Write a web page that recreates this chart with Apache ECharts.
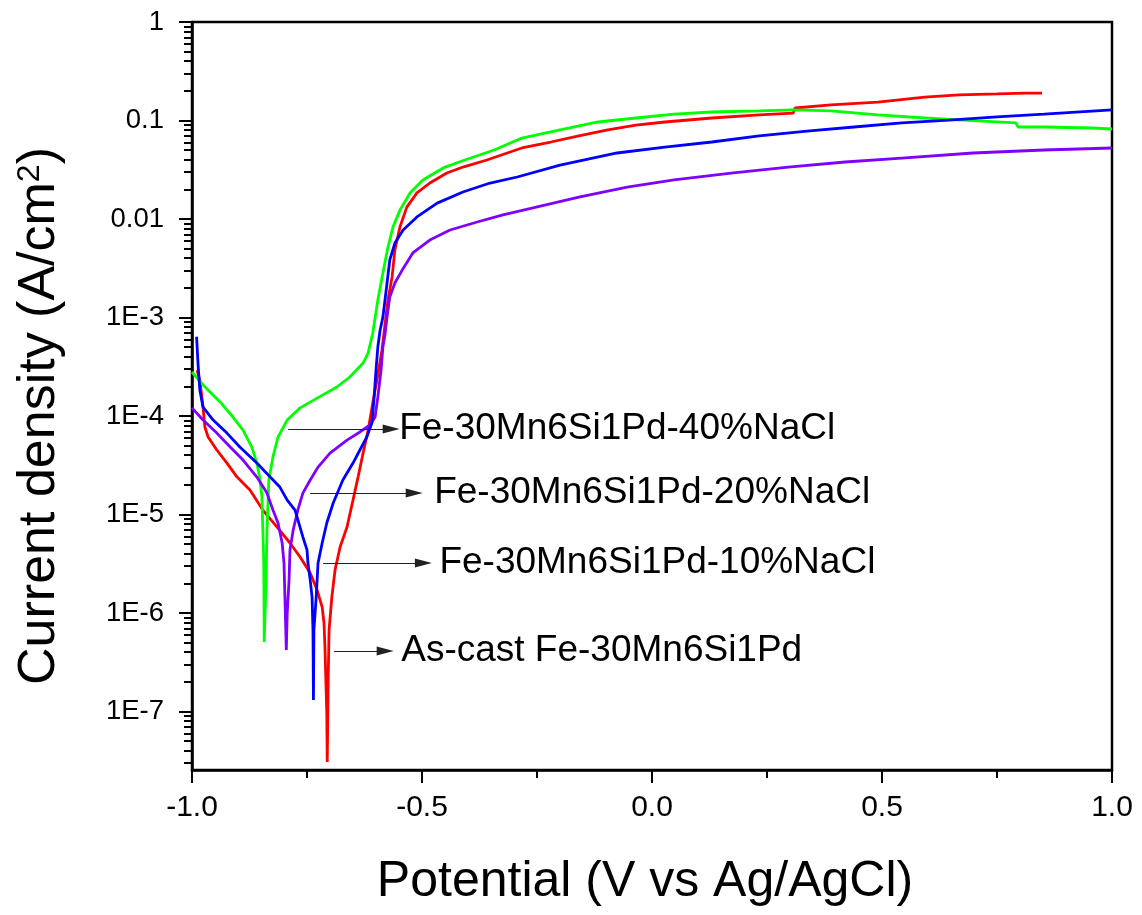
<!DOCTYPE html>
<html>
<head>
<meta charset="utf-8">
<script src="https://cdn.jsdelivr.net/npm/echarts@6/dist/echarts.min.js"></script>
<style>html,body{margin:0;padding:0;background:#fff}#c{width:1142px;height:915px}</style>
</head>
<body>
<div id="c"></div>
<script>
// ---- data (potential in V vs Ag/AgCl, current density in A/cm2) ----
const asCastV = [-0.989,-0.983,-0.976,-0.972,-0.965,-0.946,-0.924,-0.902,-0.874,-0.846,-0.815,-0.787,-0.765,-0.743,-0.728,-0.717,-0.713,-0.711,-0.709,-0.707,-0.706,-0.704,-0.702,-0.696,-0.689,-0.678,-0.663,-0.650,-0.639,-0.628,-0.617,-0.607,-0.598,-0.587,-0.580,-0.574,-0.565,-0.559,-0.548,-0.533,-0.511,-0.483,-0.446,-0.411,-0.359,-0.283,-0.220,-0.159,-0.096,-0.035,0.028,0.130,0.233,0.307,0.311,0.389,0.491,0.593,0.667,0.750,0.811,0.848];
const asCastI = [2.93e-4,2.32e-4,1.23e-4,7.73e-5,6.12e-5,4.52e-5,3.33e-5,2.40e-5,1.77e-5,1.11e-5,7.46e-6,5.14e-6,3.71e-6,2.55e-6,1.71e-6,1.15e-6,7.91e-7,4.52e-7,2.09e-7,9.66e-8,3.07e-8,2.09e-7,6.71e-7,1.45e-6,2.74e-6,4.68e-6,7.46e-6,1.40e-5,2.40e-5,4.21e-5,7.21e-5,1.36e-4,2.32e-4,4.68e-4,8.79e-4,1.51e-3,2.58e-3,4.84e-3,8.30e-3,1.32e-2,1.84e-2,2.32e-2,2.93e-2,3.37e-2,3.97e-2,5.26e-2,6.05e-2,6.97e-2,8.02e-2,8.99e-2,9.66e-2,0.106,0.114,0.119,0.134,0.144,0.154,0.173,0.182,0.186,0.190,0.190];

const nacl10V = [-0.990,-0.987,-0.983,-0.976,-0.954,-0.924,-0.896,-0.859,-0.830,-0.809,-0.793,-0.776,-0.759,-0.750,-0.748,-0.743,-0.739,-0.737,-0.736,-0.735,-0.730,-0.726,-0.717,-0.707,-0.693,-0.672,-0.650,-0.635,-0.620,-0.609,-0.604,-0.600,-0.596,-0.591,-0.585,-0.576,-0.570,-0.559,-0.541,-0.511,-0.467,-0.411,-0.352,-0.293,-0.200,-0.076,0.028,0.130,0.233,0.337,0.439,0.543,0.646,0.750,0.852,1.000];
const nacl10I = [6.38e-4,3.45e-4,1.84e-4,1.23e-4,9.10e-5,6.71e-5,4.84e-5,3.33e-5,2.40e-5,1.90e-5,1.40e-5,1.11e-5,5.92e-6,4.37e-6,3.22e-6,2.16e-6,1.45e-6,6.71e-7,1.31e-7,6.71e-7,1.45e-6,3.22e-6,5.14e-6,8.20e-6,1.31e-5,2.24e-5,3.33e-5,4.52e-5,6.12e-5,8.49e-5,1.56e-4,2.93e-4,5.02e-4,7.46e-4,1.01e-3,2.24e-3,3.84e-3,5.70e-3,7.73e-3,1.05e-2,1.45e-2,1.88e-2,2.32e-2,2.67e-2,3.53e-2,4.68e-2,5.38e-2,6.05e-2,6.97e-2,7.82e-2,8.59e-2,9.44e-2,0.101,0.109,0.116,0.128];

const nacl20V = [-1.000,-0.976,-0.946,-0.917,-0.889,-0.859,-0.837,-0.824,-0.813,-0.804,-0.800,-0.798,-0.795,-0.793,-0.789,-0.787,-0.780,-0.770,-0.759,-0.743,-0.726,-0.700,-0.663,-0.635,-0.613,-0.602,-0.596,-0.589,-0.585,-0.580,-0.576,-0.570,-0.559,-0.543,-0.520,-0.483,-0.439,-0.380,-0.324,-0.261,-0.159,-0.054,0.048,0.172,0.296,0.420,0.543,0.698,0.852,1.000];
const nacl20I = [1.21e-4,9.10e-5,6.71e-5,4.84e-5,3.57e-5,2.40e-5,1.65e-5,1.11e-5,8.20e-6,5.14e-6,3.22e-6,1.45e-6,4.21e-7,1.00e-6,2.16e-6,4.37e-6,6.97e-6,1.11e-5,1.65e-5,2.24e-5,3.03e-5,4.21e-5,5.70e-5,6.89e-5,8.11e-5,9.77e-5,1.56e-4,2.93e-4,5.02e-4,6.97e-4,1.01e-3,1.61e-3,2.24e-3,3.03e-3,4.52e-3,6.12e-3,7.73e-3,9.33e-3,1.10e-2,1.29e-2,1.67e-2,2.11e-2,2.49e-2,2.93e-2,3.37e-2,3.79e-2,4.16e-2,4.68e-2,5.02e-2,5.26e-2];

const nacl40V = [-1.000,-0.976,-0.939,-0.911,-0.889,-0.870,-0.859,-0.852,-0.848,-0.846,-0.844,-0.8435,-0.843,-0.839,-0.837,-0.833,-0.824,-0.813,-0.793,-0.765,-0.728,-0.685,-0.657,-0.628,-0.617,-0.607,-0.596,-0.585,-0.574,-0.563,-0.548,-0.526,-0.498,-0.454,-0.407,-0.343,-0.283,-0.200,-0.117,-0.035,0.048,0.130,0.233,0.307,0.389,0.491,0.593,0.676,0.791,0.796,0.852,0.957,1.000];
const nacl40I = [2.80e-4,2.07e-4,1.39e-4,9.77e-5,7.21e-5,4.84e-5,3.33e-5,2.24e-5,1.51e-5,6.97e-6,3.22e-6,1.45e-6,5.08e-7,2.16e-6,6.97e-6,2.24e-5,3.84e-5,6.12e-5,9.10e-5,1.21e-4,1.52e-4,1.97e-4,2.49e-4,3.45e-4,4.37e-4,6.97e-4,1.51e-3,2.83e-3,5.20e-3,8.30e-3,1.23e-2,1.84e-2,2.49e-2,3.30e-2,3.97e-2,5.02e-2,6.64e-2,8.02e-2,9.66e-2,0.106,0.116,0.122,0.125,0.128,0.125,0.114,0.106,0.101,9.44e-2,8.59e-2,8.59e-2,8.39e-2,8.20e-2];

// ---- ticks ----
const xTickLabels = ['-1.0','-0.5','0.0','0.5','1.0'];
const yTickValues = [1,0.1,0.01,1e-3,1e-4,1e-5,1e-6,1e-7];
const yTickLabels = ['1','0.1','0.01','1E-3','1E-4','1E-5','1E-6','1E-7'];
const yMinorMantissas = [2,3,4,5,6,7,8,9];
const yMinorDecades = [1e-8,1e-7,1e-6,1e-5,1e-4,1e-3,1e-2,1e-1];

// ---- annotations (arrow start / end potentials, current level, text) ----
const annTexts = ['Fe-30Mn6Si1Pd-40%NaCl','Fe-30Mn6Si1Pd-20%NaCl','Fe-30Mn6Si1Pd-10%NaCl','As-cast Fe-30Mn6Si1Pd'];
const annStartV = [-0.791,-0.743,-0.715,-0.691];
const annEndV = [-0.567,-0.517,-0.497,-0.580];
const annI = [7.38e-5,1.65e-5,3.22e-6,4.11e-7];
const annGap = [8,20,16,16];

const FONT = '"Liberation Sans", Arial, sans-serif';
const yMinorValues = [];
yMinorDecades.forEach(d => yMinorMantissas.forEach(m => yMinorValues.push(+(m * d).toPrecision(3))));

function pairs(xs, ys) { return xs.map((x, i) => [x, ys[i]]); }

const chart = echarts.init(document.getElementById('c'), null, {renderer: 'canvas'});
const yMin = 2.55e-8, yMax = 1;

chart.setOption({
  animation: false,
  backgroundColor: '#fff',
  grid: {left: 192, right: 30, top: 22, bottom: 145, show: true, borderColor: '#000', borderWidth: 2.5, containLabel: false},
  xAxis: {
    type: 'value', min: -1, max: 1, interval: 0.5,
    axisLine: {show: true, onZero: false, lineStyle: {color: '#000', width: 2.5}},
    axisTick: {show: true, inside: false, length: 13, lineStyle: {color: '#000', width: 2}},
    minorTick: {show: true, splitNumber: 2, length: 8, lineStyle: {color: '#000', width: 2}},
    splitLine: {show: false},
    axisLabel: {margin: 23, fontSize: 30, fontFamily: FONT, color: '#000',
      formatter: v => xTickLabels[Math.round((v + 1) / 0.5)]},
    name: 'Potential (V vs Ag/AgCl)', nameLocation: 'middle', nameGap: 87,
    nameTextStyle: {fontSize: 50, fontFamily: FONT, color: '#000', padding: [0, 14, 0, 0]}
  },
  yAxis: [{
    type: 'log', logBase: 10, min: yMin, max: yMax, position: 'left',
    axisLine: {show: true, onZero: false, lineStyle: {color: '#000', width: 2.5}},
    axisTick: {show: true, inside: false, length: 13, customValues: yTickValues, lineStyle: {color: '#000', width: 2}},
    splitLine: {show: false},
    axisLabel: {margin: 28, fontSize: 27.5, fontFamily: FONT, color: '#000', customValues: yTickValues,
      formatter: v => yTickLabels[Math.round(-Math.log10(v))]},
    name: 'Current density (A/cm{sup|2})', nameLocation: 'middle', nameGap: 126, nameRotate: 90,
    nameTextStyle: {fontSize: 52, fontFamily: FONT, color: '#000', padding: [0, 40, 0, 0],
      rich: {sup: {fontSize: 32, fontFamily: FONT, color: '#000', verticalAlign: 'top'}}}
  }, {
    type: 'log', logBase: 10, min: yMin, max: yMax, position: 'left', offset: 0,
    axisLine: {show: false, onZero: false},
    axisTick: {show: true, inside: false, length: 8, customValues: yMinorValues, lineStyle: {color: '#000', width: 2}},
    axisLabel: {show: false},
    splitLine: {show: false}
  }],
  series: [
    {name: 'As-cast Fe-30Mn6Si1Pd', type: 'line', data: pairs(asCastV, asCastI), showSymbol: false, lineStyle: {color: '#ff0000', width: 2.8}, itemStyle: {color: '#ff0000'}},
    {name: 'Fe-30Mn6Si1Pd-40%NaCl', type: 'line', data: pairs(nacl40V, nacl40I), showSymbol: false, lineStyle: {color: '#00ff00', width: 2.8}, itemStyle: {color: '#00ff00'}},
    {name: 'Fe-30Mn6Si1Pd-20%NaCl', type: 'line', data: pairs(nacl20V, nacl20I), showSymbol: false, lineStyle: {color: '#8000ff', width: 2.8}, itemStyle: {color: '#8000ff'}},
    {name: 'Fe-30Mn6Si1Pd-10%NaCl', type: 'line', data: pairs(nacl10V, nacl10I), showSymbol: false, lineStyle: {color: '#0000ff', width: 2.8}, itemStyle: {color: '#0000ff'}},
    {
      name: 'annotations', type: 'line', data: [], silent: true,
      markLine: {
        silent: true, animation: false,
        symbol: ['none', 'triangle'], symbolSize: [9, 17],
        lineStyle: {color: '#222', width: 1.2, type: 'solid'},
        itemStyle: {color: '#000'},
        label: {show: true, position: 'end', color: '#000', fontSize: 37, fontFamily: FONT},
        emphasis: {disabled: true},
        data: annTexts.map((t, i) => [
          {coord: [annStartV[i], annI[i]], label: {formatter: t, distance: annGap[i]}},
          {coord: [annEndV[i], annI[i]]}
        ])
      }
    }
  ]
});
</script>
</body>
</html>
